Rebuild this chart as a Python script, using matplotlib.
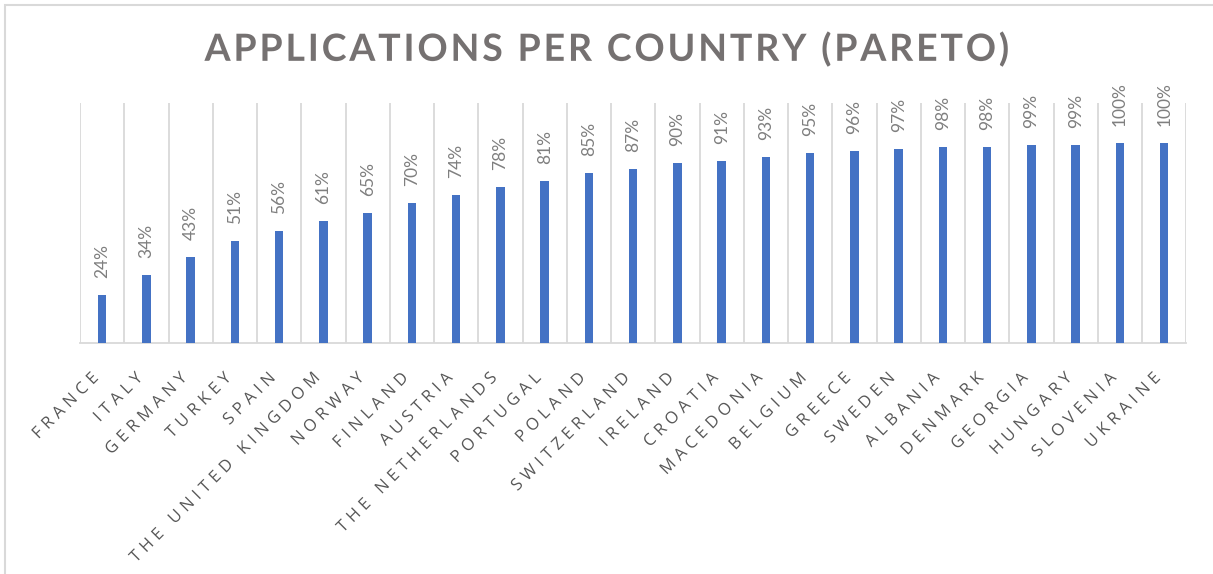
import numpy as np
import matplotlib.pyplot as plt
from matplotlib import patheffects
from matplotlib.path import Path
from matplotlib.textpath import text_to_path
from matplotlib.font_manager import FontProperties
from matplotlib.transforms import offset_copy

countries = ['FRANCE', 'ITALY', 'GERMANY', 'TURKEY', 'SPAIN', 'THE UNITED KINGDOM',
             'NORWAY', 'FINLAND', 'AUSTRIA', 'THE NETHERLANDS', 'PORTUGAL', 'POLAND',
             'SWITZERLAND', 'IRELAND', 'CROATIA', 'MACEDONIA', 'BELGIUM', 'GREECE',
             'SWEDEN', 'ALBANIA', 'DENMARK', 'GEORGIA', 'HUNGARY', 'SLOVENIA', 'UKRAINE']
cum_share = [0.24, 0.34, 0.43, 0.51, 0.56, 0.61, 0.65, 0.70, 0.74, 0.78, 0.81, 0.85,
             0.87, 0.90, 0.91, 0.93, 0.95, 0.96, 0.97, 0.98, 0.98, 0.99, 0.99, 1.00, 1.00]
title = 'APPLICATIONS PER COUNTRY (PARETO)'

bar_color = '#4472C4'
grid_color = '#D9D9D9'


class Tracking(patheffects.AbstractPathEffect):
    """Letter-spacing for a text: moves each glyph by `track` (in ems) per character."""

    def __init__(self, s, prop, track, align='center'):
        super().__init__()
        font = text_to_path._get_font(prop)
        glyphs, _, _ = text_to_path.get_glyphs_with_font(font, s)
        self.xpos = np.array([g[1] for g in glyphs])
        self.step = track * text_to_path.FONT_SCALE
        frac = {'left': 0.0, 'center': 0.5, 'right': 1.0}[align]
        self.shift0 = frac * (len(self.xpos) - 1) * self.step

    def draw_path(self, renderer, gc, tpath, affine, rgbFace=None):
        verts = tpath.vertices.copy()
        codes = tpath.codes
        starts = np.flatnonzero(codes == Path.MOVETO)
        ends = np.append(starts[1:], len(codes))
        for a, b in zip(starts, ends):
            cx = 0.5 * (verts[a:b, 0].min() + verts[a:b, 0].max())
            i = max(np.searchsorted(self.xpos, cx, side='right') - 1, 0)
            verts[a:b, 0] += i * self.step - self.shift0
        renderer.draw_path(gc, Path(verts, codes), affine, rgbFace)


fig = plt.figure(figsize=(12.13, 5.74), dpi=100)
ax = fig.add_axes([0.066, 0.4024, 0.912, 0.418])

x = np.arange(len(countries))
ax.bar(x, cum_share, width=0.19, color=bar_color, zorder=3)

for xi, v in zip(x, cum_share):
    ax.annotate(f'{v:.0%}', (xi, v), xytext=(0, 12), textcoords='offset points',
                rotation=90, ha='center', va='bottom', fontsize=12.5,
                color='#7F7F7F', family='Lato')

ax.set_xlim(-0.5, len(countries) - 0.5)
ax.set_ylim(0, 1.2)
ax.set_yticks([])
ax.set_xticks(np.arange(-0.5, len(countries), 1.0))
ax.set_xticklabels([])
ax.tick_params(axis='x', length=0)
ax.grid(axis='x', color=grid_color, linewidth=1.3, zorder=0)

for s in ['top', 'right', 'left']:
    ax.spines[s].set_visible(False)
ax.spines['bottom'].set_color(grid_color)
ax.spines['bottom'].set_linewidth(1.3)

# category names, slanted and letter-spaced
lab_prop = FontProperties(family='Open Sans', size=12)
lab_trans = offset_copy(ax.get_xaxis_transform(), fig=fig, x=-6, y=-33, units='dots')
for xi, name in zip(x, countries):
    t = ax.text(xi, 0, name, transform=lab_trans, rotation=45, rotation_mode='anchor',
                ha='right', va='center', fontproperties=lab_prop, color='#595959')
    t.set_path_effects([Tracking(name, lab_prop, 0.29, align='right')])

title_prop = FontProperties(family='Lato', weight='bold', size=27)
t = fig.text(0.5, 0.915, title, ha='center', va='center',
             fontproperties=title_prop, color='#757171')
t.set_path_effects([Tracking(title, title_prop, 0.075, align='center')])

# chart frame
fig.patches.append(plt.Rectangle((0.0041, -0.05), 1.0, 1.0413, transform=fig.transFigure,
                                 fill=False, edgecolor='#D9D9D9', linewidth=1.5))

fig.savefig('out.png', dpi=100)
